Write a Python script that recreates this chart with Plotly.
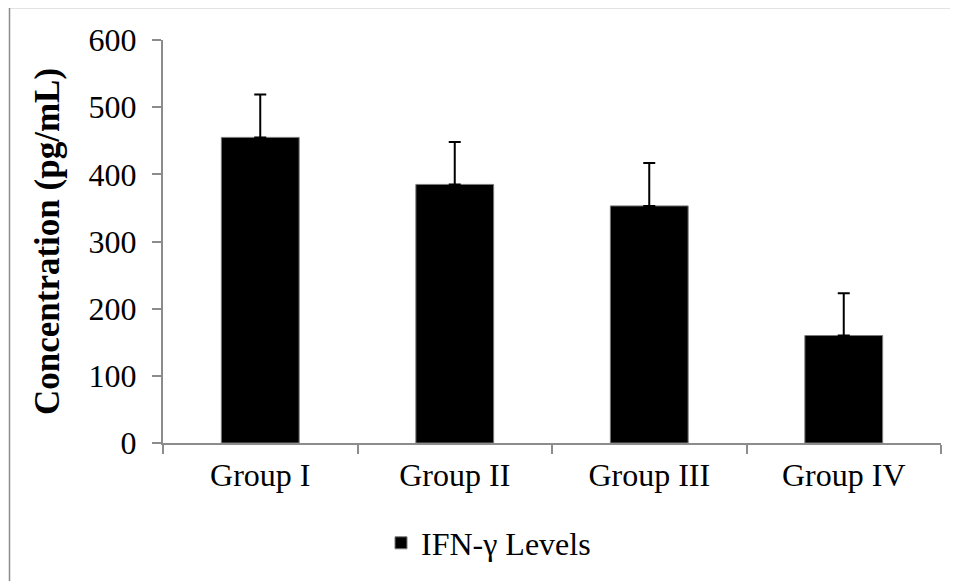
import plotly.graph_objects as go

categories = ["Group I", "Group II", "Group III", "Group IV"]
ifn_levels = [455, 385, 353, 160]
ifn_errors = [64, 63, 64, 63]
y_ticks = [0, 100, 200, 300, 400, 500, 600]

FONT = "Times New Roman, Liberation Serif, serif"
AXIS_GRAY = "#8c8c8c"

OFF = 8  # default page body margin
W, H = 958 - OFF, 581 - OFF
# target plot area in window pixels: x 163..941, y 40..444
L, T = 163 - OFF, 40 - OFF
R = (W + OFF) - 941
B = (H + OFF) - 444
pw, ph = W - L - R, H - T - B

def px_x(p):
    return (p - OFF - L) / pw

def px_y(p):
    return (H - B - (p - OFF)) / ph

fig = go.Figure()
fig.add_trace(go.Bar(
    x=categories,
    y=ifn_levels,
    name="IFN-γ Levels",
    marker=dict(color="black", line=dict(color="#7a7a7a", width=1)),
    error_y=dict(type="data", array=ifn_errors, symmetric=False,
                 arrayminus=[0] * len(ifn_errors),
                 color="black", thickness=2, width=6),
))

fig.update_layout(
    width=W, height=H,
    margin=dict(l=L, r=R, t=T, b=B, pad=0),
    paper_bgcolor="white", plot_bgcolor="white",
    bargap=0.6,
    font=dict(family=FONT, size=32, color="black"),
    showlegend=True,
    legend=dict(orientation="h", x=px_x(381), xanchor="left",
                y=px_y(543), yanchor="middle",
                font=dict(family=FONT, size=32, color="black"),
                bgcolor="rgba(0,0,0,0)"),
    xaxis=dict(
        showline=True, linecolor=AXIS_GRAY, linewidth=2,
        ticks="outside", tickson="boundaries", ticklen=9, tickwidth=2,
        tickcolor=AXIS_GRAY, showgrid=False, zeroline=False,
        tickfont=dict(family=FONT, size=32, color="black"),
        ticklabelstandoff=3,
    ),
    yaxis=dict(
        range=[0, 600], tickvals=y_ticks,
        showline=True, linecolor=AXIS_GRAY, linewidth=2,
        ticks="outside", ticklen=9, tickwidth=2, tickcolor=AXIS_GRAY,
        showgrid=False, zeroline=False,
        tickfont=dict(family=FONT, size=32, color="black"),
        ticklabelstandoff=9,
        title=dict(text="<b>Concentration (pg/mL)</b>", standoff=18,
                   font=dict(family=FONT, size=35, color="black")),
    ),
    shapes=[dict(type="rect", xref="paper", yref="paper",
                 x0=px_x(9.5), x1=px_x(1000), y0=px_y(620), y1=px_y(7.5),
                 line=dict(color=AXIS_GRAY, width=1.5), layer="below")],
)

fig.write_html("out.html")
